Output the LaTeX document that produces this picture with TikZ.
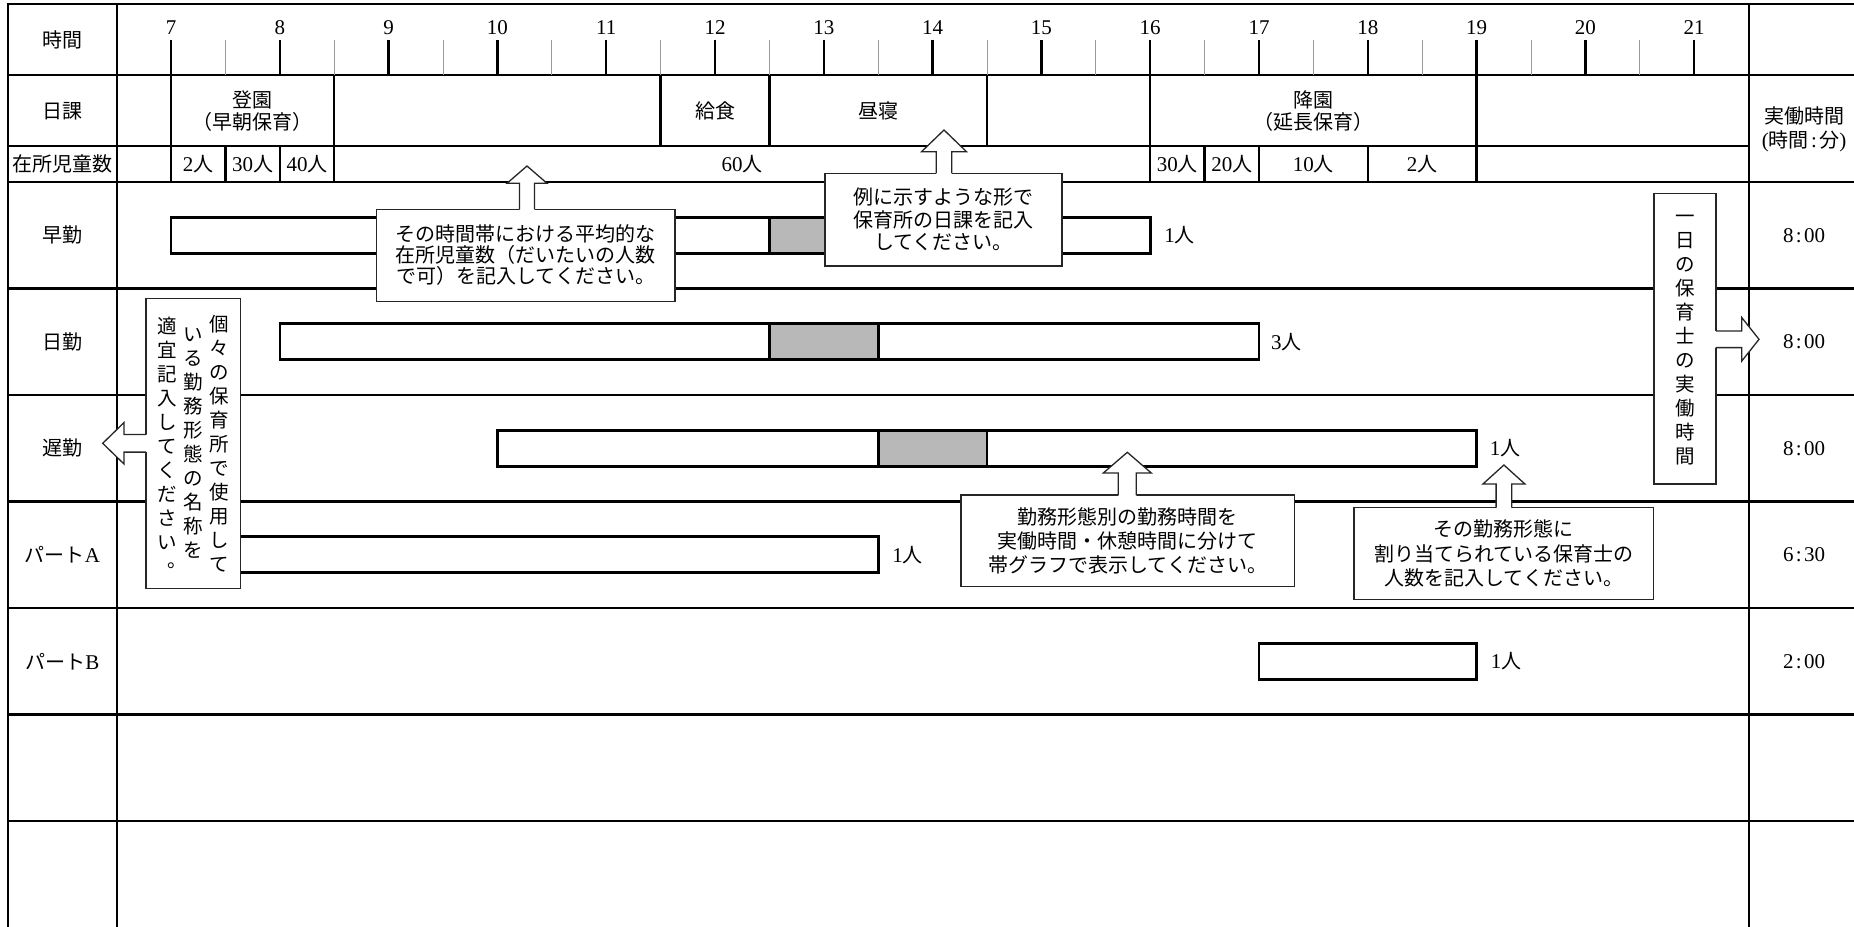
\documentclass[tikz,border=0pt]{standalone}
\usepackage{fontspec}
\setmainfont{Noto Sans CJK JP}
\newfontfamily\lat{Liberation Serif}
\newcommand\D[1]{{\lat\fontsize{21}{24}\selectfont #1}}
\newcommand\cln{\makebox[0.5em]{:}}
\newcommand\vmaru{\makebox[1em][l]{\kern.5em\raisebox{.3em}{。}}}
% up arrow: tipx tipy basey boty headhalf shafthalf
\newcommand\callup[6]{%
 \fill[white] (#1,#2) -- ({#1+#5},#3) -- ({#1+#6},#3) -- ({#1+#6},{#4+2}) -- ({#1-#6},{#4+2}) -- ({#1-#6},#3) -- ({#1-#5},#3) -- cycle;
 \draw[arrline] ({#1-#6},#4) -- ({#1-#6},#3) -- ({#1-#5},#3) -- (#1,#2) -- ({#1+#5},#3) -- ({#1+#6},#3) -- ({#1+#6},#4);}
% horizontal arrow: tipx tipy basex startx headhalf shafthalf fillx
\newcommand\callh[7]{%
 \fill[white] (#1,#2) -- (#3,{#2-#5}) -- (#3,{#2-#6}) -- (#7,{#2-#6}) -- (#7,{#2+#6}) -- (#3,{#2+#6}) -- (#3,{#2+#5}) -- cycle;
 \draw[arrline] (#4,{#2-#6}) -- (#3,{#2-#6}) -- (#3,{#2-#5}) -- (#1,#2) -- (#3,{#2+#5}) -- (#3,{#2+#6}) -- (#4,{#2+#6});}
\begin{document}
\begin{tikzpicture}[x=1pt,y=-1pt,
  declare function={hx(\h)=171+108.8*(\h-7);},
  every node/.style={inner sep=0pt, font=\fontsize{20}{23}\selectfont},
  gridline/.style={line width=2.6pt, line cap=rect},
  cellline/.style={line width=2.4pt},
  tick/.style={line width=2.4pt},
  minortick/.style={line width=0.9pt, black!40},
  bar/.style={draw=black, line width=2.6pt, fill=white},
  brk/.style={draw=black, line width=2.6pt, fill=black!28},
  callbox/.style={draw=black!85, line width=1.3pt, fill=white, align=center, inner sep=0pt},
  arrline/.style={draw=black!85, line width=1.3pt, line join=miter},
  lbl/.style={anchor=west},
  vcol/.style={align=center, font=\fontsize{19.5}{24}\selectfont},
]
\useasboundingbox (0,0) rectangle (1854,926);
\fill[white] (0,0) rectangle (1854,926);

% ---------- grid ----------
\foreach \y in {4,75,182,288.5,395,501.5,608,714.5,821}
  \draw[gridline] (8,\y) -- (1854,\y);
\draw[gridline] (8,146) -- (1749,146);
\foreach \x in {8,117,1749}
  \draw[gridline] (\x,4) -- (\x,926);

% time axis
\foreach \h in {7,...,21} {
  \draw[tick] ({hx(\h)},40) -- ({hx(\h)},75);
  \node (t\h) at ({hx(\h)},28) {\D{\h}};
}
\foreach \h in {7.5,8.5,...,20.5}
  \draw[minortick] ({hx(\h)},40) -- ({hx(\h)},75);

% schedule row separators
\foreach \h in {7,8.5,11.5,12.5,14.5,16,19}
  \draw[cellline] ({hx(\h)},75) -- ({hx(\h)},146);
\foreach \h in {7,7.5,8,8.5,16,16.5,17,18,19}
  \draw[cellline] ({hx(\h)},146) -- ({hx(\h)},182);

% ---------- header texts ----------
\node (hjikan) at (62.5,40) {時間};
\node (hnikka) at (62.5,111) {日課};
\node (hzaisho) at (62.5,164) {在所児童数};
\node[align=center, font=\fontsize{20}{22.7}\selectfont] (toen) at ({hx(7.75)},111) {登園\\（早朝保育）};
\node (kyushoku) at ({hx(12)},111) {給食};
\node (hirune) at ({hx(13.5)},111) {昼寝};
\node[align=center, font=\fontsize{20}{22.7}\selectfont] (koen) at ({hx(17.5)},111) {降園\\（延長保育）};
\node[align=center, font=\fontsize{20}{24}\selectfont] (jitsudo) at (1804,129) {実働時間\\\D{(}時間\D{\cln}分\D{)}};

\node (z1) at ({hx(7.25)},164) {\D{2}人};
\node (z2) at ({hx(7.75)},164) {\D{30}人};
\node (z3) at ({hx(8.25)},164) {\D{40}人};
\node (z4) at ({hx(12.25)},164) {\D{60}人};
\node (z5) at ({hx(16.25)},164) {\D{30}人};
\node (z6) at ({hx(16.75)},164) {\D{20}人};
\node (z7) at ({hx(17.5)},164) {\D{10}人};
\node (z8) at ({hx(18.5)},164) {\D{2}人};

% ---------- rows ----------
\node (r1) at (62.5,235.25) {早勤};
\node (r2) at (62.5,341.75) {日勤};
\node (r3) at (62.5,448.25) {遅勤};
\node (r4) at (62.5,554.75) {パート\D{A}};
\node (r5) at (62.5,661.25) {パート\D{B}};

\node (v1) at (1804,235.25) {\D{8\cln00}};
\node (v2) at (1804,341.75) {\D{8\cln00}};
\node (v3) at (1804,448.25) {\D{8\cln00}};
\node (v4) at (1804,554.75) {\D{6\cln30}};
\node (v5) at (1804,661.25) {\D{2\cln00}};

% bars
\draw[bar] ({hx(7)},217.25) rectangle ({hx(16)},253.25);
\draw[brk] ({hx(12.5)},217.25) rectangle ({hx(13.5)},253.25);
\node[lbl] (n1) at ({hx(16)+14},235.25) {\D{1}人};

\draw[bar] ({hx(8)},323.75) rectangle ({hx(17)},359.75);
\draw[brk] ({hx(12.5)},323.75) rectangle ({hx(13.5)},359.75);
\node[lbl] (n2) at ({hx(17)+12},341.75) {\D{3}人};

\draw[bar] ({hx(10)},430.25) rectangle ({hx(19)},466.25);
\draw[brk] ({hx(13.5)},430.25) rectangle ({hx(14.5)},466.25);
\node[lbl] (n3) at ({hx(19)+13},448.25) {\D{1}人};

\draw[bar] ({hx(7)},536.75) rectangle ({hx(13.5)},572.75);
\node[lbl] (n4) at ({hx(13.5)+14},554.75) {\D{1}人};

\draw[bar] ({hx(17)},643.25) rectangle ({hx(19)},679.25);
\node[lbl] (n5) at ({hx(19)+14},661.25) {\D{1}人};

% ---------- callouts ----------
\node[callbox, minimum width=298.3pt, minimum height=92.4pt, font=\fontsize{20}{21}\selectfont] (c1) at (525.85,255.5)
  {その時間帯における平均的な\\在所児童数（だいたいの人数\\で可）を記入してください。};
\node[callbox, minimum width=237pt, minimum height=92.7pt, font=\fontsize{20}{22.5}\selectfont] (c2) at (943.5,219.65)
  {例に示すような形で\\保育所の日課を記入\\してください。};
\node[callbox, minimum width=333.6pt, minimum height=91.7pt, font=\fontsize{20}{24}\selectfont] (c3) at (1127.8,540.85)
  {勤務形態別の勤務時間を\\実働時間・休憩時間に分けて\\帯グラフで表示してください。};
\node[callbox, minimum width=299.8pt, minimum height=91.8pt, font=\fontsize{20}{24.5}\selectfont] (c4) at (1503.9,553.6)
  {その勤務形態に\\割り当てられている保育士の\\人数を記入してください。};
\node[callbox, minimum width=94.7pt, minimum height=290pt] (c5) at (193.35,443.3) {};
\node[vcol] (c5a) at (219,443.3) {個\\々\\の\\保\\育\\所\\で\\使\\用\\し\\て};
\node[vcol] (c5b) at (193,443.3) {い\\る\\勤\\務\\形\\態\\の\\名\\称\\を};
\node[vcol] (c5c) at (167,445) {適\\宜\\記\\入\\し\\て\\く\\だ\\さ\\い\\\vmaru};
\node[callbox, minimum width=62pt, minimum height=290.7pt] (c6) at (1685,338.65) {};
\node[vcol] (c6a) at (1685,340) {一\\日\\の\\保\\育\\士\\の\\実\\働\\時\\間};

% arrows
\callup{527}{166}{183.3}{209.3}{20}{7.5}
\callup{944}{130}{151.7}{173.3}{22.5}{7.8}
\callup{1127.3}{452.3}{473}{495}{24}{9}
\callup{1503.9}{465}{484}{507.7}{21}{7.8}
\callh{102.7}{443.3}{124}{146}{20.7}{8.8}{148}
\callh{1759}{339.3}{1741.7}{1716}{21.8}{8.3}{1714}
\end{tikzpicture}
\end{document}
